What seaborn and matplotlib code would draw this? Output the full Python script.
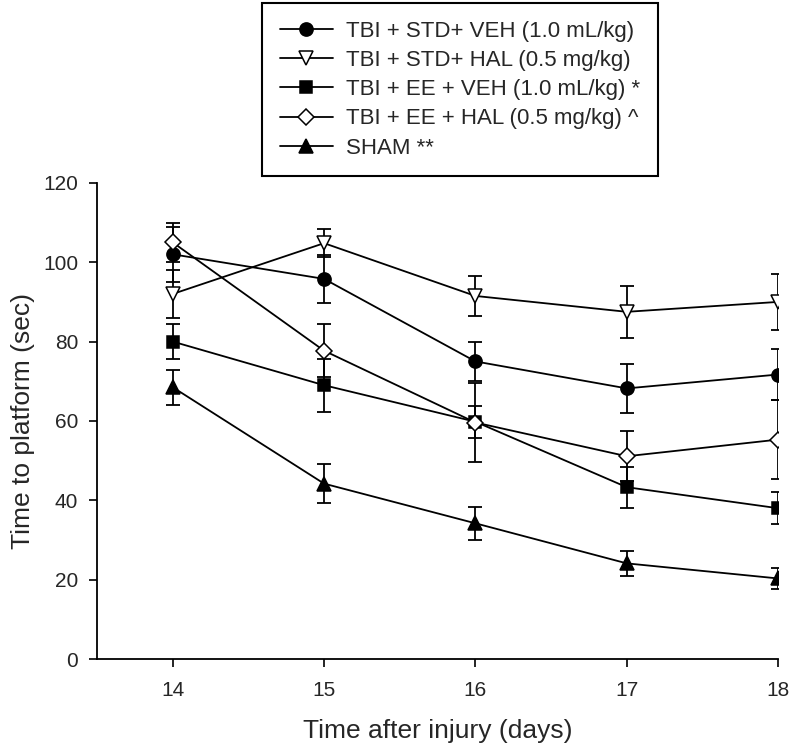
import matplotlib
matplotlib.use("Agg")
import matplotlib.pyplot as plt
import seaborn as sns

days = [14, 15, 16, 17, 18]

std_veh = [102, 95.8, 75, 68.2, 71.7]
std_veh_err = [7, 6, 5, 6.2, 6.5]

std_hal = [92, 104.8, 91.5, 87.5, 90]
std_hal_err = [6, 3.5, 5, 6.5, 7]

ee_veh = [80, 69, 59.8, 43.3, 38]
ee_veh_err = [4.4, 6.7, 4, 5.2, 4]

ee_hal = [105, 77.7, 59.6, 51.1, 55.3]
ee_hal_err = [5, 6.7, 10, 6.3, 10]

sham = [68.5, 44.2, 34.2, 24.1, 20.3]
sham_err = [4.4, 5, 4.2, 3.1, 2.7]

labels = [
    "TBI + STD+ VEH (1.0 mL/kg)",
    "TBI + STD+ HAL (0.5 mg/kg)",
    "TBI + EE + VEH (1.0 mL/kg) *",
    "TBI + EE + HAL (0.5 mg/kg) ^",
    "SHAM **",
]

sns.set_style("ticks")
plt.rcParams['font.family'] = ['Liberation Sans', 'DejaVu Sans']

fig = plt.figure(figsize=(7.92, 7.51), dpi=100)
ax = fig.add_axes([0.1225, 0.1225, 0.86, 0.634])

series = [
    (std_veh, std_veh_err, "o", "black", 9.5),
    (std_hal, std_hal_err, "v", "white", 9.5),
    (ee_veh, ee_veh_err, "s", "black", 8.5),
    (ee_hal, ee_hal_err, "D", "white", 8),
    (sham, sham_err, "^", "black", 9.5),
]

for (vals, err, mk, fc, ms), lab in zip(series, labels):
    ax.errorbar(days, vals, yerr=err, fmt="none", ecolor="black",
                elinewidth=1.3, capsize=5, capthick=1.3, zorder=2)
    sns.lineplot(x=days, y=vals, ax=ax, color="black", linewidth=1.3,
                 marker=mk, markersize=ms, markerfacecolor=fc,
                 markeredgecolor="black", markeredgewidth=1.1,
                 label=lab, zorder=3)

h, l = ax.get_legend_handles_labels()
ax.get_legend().remove()
leg = fig.legend(h, l, loc="upper left", bbox_to_anchor=(262 / 792, 1 - 3 / 751),
                 frameon=True, fancybox=False, fontsize=16,
                 handlelength=2.4, borderpad=0.8, labelspacing=0.37,
                 handletextpad=0.6, borderaxespad=0)
leg.get_frame().set_edgecolor("black")
leg.get_frame().set_linewidth(1.5)
leg.get_frame().set_alpha(1)

ax.set_xlim(13.5, 18.0)
ax.set_ylim(0, 120)
ax.set_xticks(days)
ax.set_yticks([0, 20, 40, 60, 80, 100, 120])
ax.tick_params(labelsize=15, length=5.5, width=1.2, color="black")
ax.tick_params(axis="x", pad=10)
ax.tick_params(axis="y", pad=8)
ax.set_xlabel("Time after injury (days)", fontsize=19, labelpad=14)
ax.set_ylabel("Time to platform (sec)", fontsize=19, labelpad=6)
for s in ["left", "bottom"]:
    ax.spines[s].set_color("black")
    ax.spines[s].set_linewidth(1.3)
sns.despine(ax=ax)

fig.savefig("out.png", dpi=100)
